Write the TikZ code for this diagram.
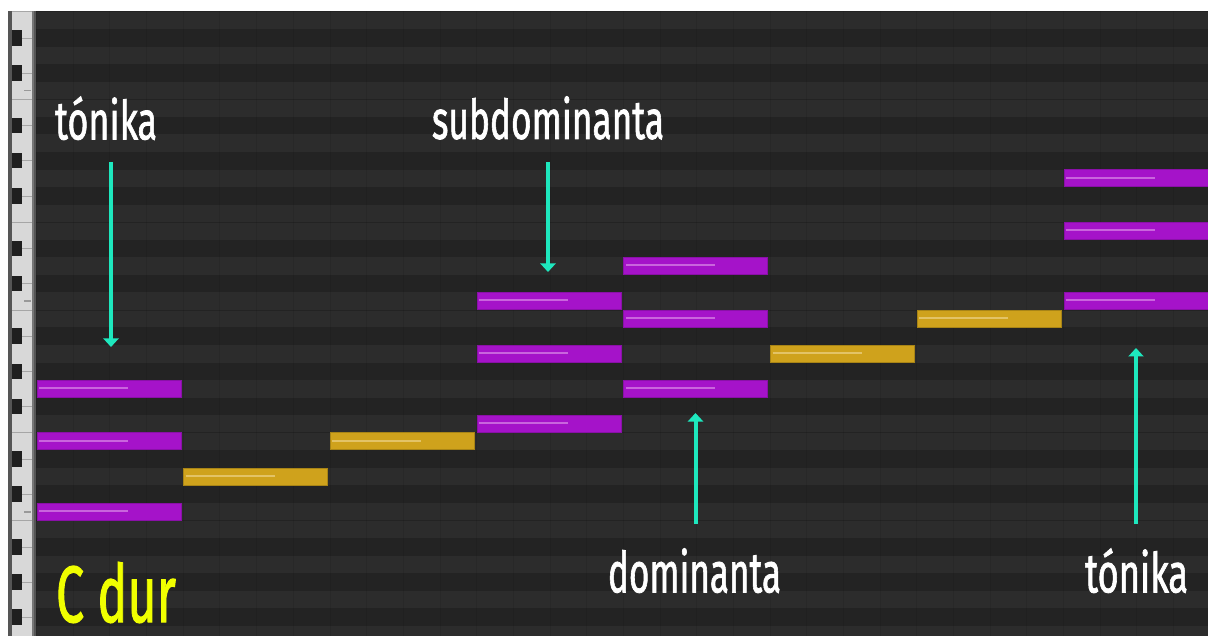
\documentclass[tikz,border=0pt]{standalone}
\usepackage{fontspec}
\setmainfont{Fira Sans}
\newfontfamily\labfont[FakeBold=1.6]{Fira Sans}
\usetikzlibrary{arrows.meta}
\definecolor{rowlight}{HTML}{2C2C2C}
\definecolor{rowdark}{HTML}{232323}
\definecolor{keywhite}{HTML}{D8D8D8}
\definecolor{keyblack}{HTML}{1F1F1F}
\definecolor{keyedge}{HTML}{555555}
\definecolor{notepurple}{HTML}{A513C9}
\definecolor{purpleedge}{HTML}{8A10A8}
\definecolor{purplehl}{HTML}{C965DD}
\definecolor{noteyellow}{HTML}{CFA21C}
\definecolor{yellowedge}{HTML}{A88416}
\definecolor{yellowhl}{HTML}{E3C366}
\definecolor{arrowcol}{HTML}{1EE8BE}
\definecolor{labyellow}{HTML}{F0FF00}
\tikzset{
  notebox/.style={rectangle, anchor=north west, inner sep=0pt, outer sep=0pt,
    minimum width=144pt, minimum height=17pt, line width=0.8pt},
  pnote/.style={notebox, fill=notepurple, draw=purpleedge,
    path picture={\draw[purplehl, line width=2pt]
      ([xshift=2pt,yshift=0.5pt]path picture bounding box.west) -- ++(89,0);}},
  ynote/.style={notebox, fill=noteyellow, draw=yellowedge,
    path picture={\draw[yellowhl, line width=2pt]
      ([xshift=2pt,yshift=0.5pt]path picture bounding box.west) -- ++(89,0);}},
  lab/.style={inner sep=0pt, outer sep=0pt, anchor=south west, text=white, font=\labfont},
  pointer/.style={draw=arrowcol, line width=4pt,
    -{Triangle[width=15pt,length=8.5pt]}}
}
\begin{document}
\begin{tikzpicture}[x=1pt,y=-1pt]
\useasboundingbox (0,0) rectangle (1208,636);
\fill[white] (0,0) rectangle (1208,636);
\begin{scope}
\clip (8,11) rectangle (1208,636);
% rows of the piano roll
\foreach \p in {-8,...,28}{
  \pgfmathtruncatemacro\m{mod(\p+120,12)}
  \pgfmathtruncatemacro\blk{(\m==1||\m==3||\m==6||\m==8||\m==10)?1:0}
  \ifnum\blk=1
    \fill[rowdark] (36,{503-17.55*\p}) rectangle (1208,{520.55-17.55*\p});
  \else
    \fill[rowlight] (36,{503-17.55*\p}) rectangle (1208,{520.55-17.55*\p});
  \fi
}
% separators between adjacent white-key rows (E/F and B/C)
\foreach \p in {-8,...,28}{
  \pgfmathtruncatemacro\m{mod(\p+120,12)}
  \ifnum\m=4 \draw[rowdark, line width=0.8pt] (36,{503-17.55*\p}) -- (1208,{503-17.55*\p}); \fi
  \ifnum\m=11 \draw[rowdark, line width=0.8pt] (36,{503-17.55*\p}) -- (1208,{503-17.55*\p}); \fi
}
% beat lines
\foreach \k in {0,...,32}{
  \draw[black, opacity=0.07, line width=0.8pt] ({36.5+36.675*\k},11) -- ({36.5+36.675*\k},636);
}
% keyboard
\fill[keyedge] (8,11) rectangle (36,636);
\fill[keywhite] (12,11) rectangle (32,636);
\fill[keyedge!80!white] (32,11) rectangle (34,636);
\foreach \p in {-8,...,28}{
  \pgfmathtruncatemacro\m{mod(\p+120,12)}
  \pgfmathtruncatemacro\blk{(\m==1||\m==3||\m==6||\m==8||\m==10)?1:0}
  \ifnum\blk=1
    \fill[keyblack] (12,{504-17.55*\p}) rectangle (22,{519.5-17.55*\p});
    \draw[gray!70, line width=0.7pt] (22,{511.8-17.55*\p}) -- (32,{511.8-17.55*\p});
  \fi
  \ifnum\m=4 \draw[gray!70, line width=0.7pt] (12,{503-17.55*\p}) -- (32,{503-17.55*\p}); \fi
  \ifnum\m=11 \draw[gray!70, line width=0.7pt] (12,{503-17.55*\p}) -- (32,{503-17.55*\p}); \fi
  \ifnum\m=0 \draw[gray!80, line width=1.4pt] (24,{511.8-17.55*\p}) -- (31,{511.8-17.55*\p}); \fi
}
% notes
\foreach \k/\p in {0/0,0/4,0/7,3/5,3/9,3/12,4/7,4/11,4/14,7/12,7/16,7/19}{
  \node[pnote] (n\k-\p) at ({37+146.7*\k},{503-17.55*\p}) {};
}
\foreach \k/\p in {1/2,2/4,5/9,6/11}{
  \node[ynote] (n\k-\p) at ({37+146.7*\k},{503-17.55*\p}) {};
}
\end{scope}
% labels
\node[lab] (ton1) at (55,140) {\resizebox{102pt}{43pt}{tónika}};
\node[lab] (subd) at (432,139.5) {\resizebox{232pt}{42.5pt}{subdominanta}};
\node[lab] (dom) at (608,593) {\resizebox{173pt}{44pt}{dominanta}};
\node[lab] (ton2) at (1085,593) {\resizebox{103pt}{44pt}{tónika}};
\node[lab, text=labyellow] (cdur) at (56,623) {\resizebox{120pt}{60pt}{C dur}};
% arrows
\coordinate (a1s) at (111,162); \coordinate (a1e) at (111,347);
\coordinate (a2s) at (548,162); \coordinate (a2e) at (548,272);
\coordinate (a3s) at (695.5,524); \coordinate (a3e) at (695.5,413);
\coordinate (a4s) at (1136,524); \coordinate (a4e) at (1136,348);
\draw[pointer] (a1s) -- (a1e);
\draw[pointer] (a2s) -- (a2e);
\draw[pointer] (a3s) -- (a3e);
\draw[pointer] (a4s) -- (a4e);
\end{tikzpicture}
\end{document}
